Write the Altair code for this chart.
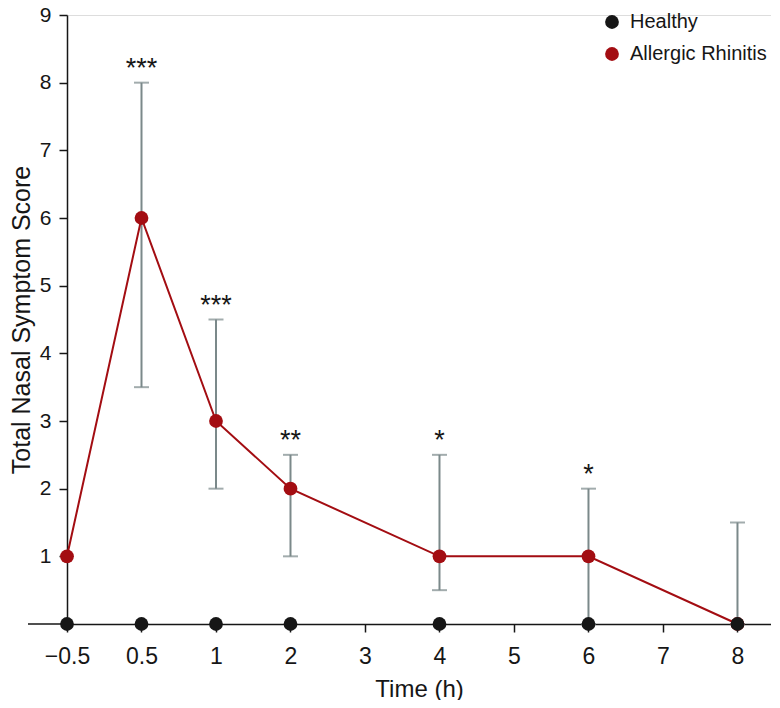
import altair as alt
import pandas as pd
import json

# ---- data ----
x_labels = ["\u22120.5", "0.5", "1", "2", "3", "4", "5", "6", "7", "8"]
time_points = ["\u22120.5", "0.5", "1", "2", "4", "6", "8"]
healthy_score = [0, 0, 0, 0, 0, 0, 0]
ar_score = [1, 6, 3, 2, 1, 1, 0]
ar_lower = [None, 3.5, 2, 1, 0.5, 0, 0]
ar_upper = [None, 8, 4.5, 2.5, 2.5, 2, 1.5]
stars = ["", "***", "***", "**", "*", "*", ""]
groups = ["Healthy", "Allergic Rhinitis"]
group_colors = ["#161616", "#a30d12"]

FONT = "Liberation Sans"
idx = [x_labels.index(t) for t in time_points]

ar = pd.DataFrame({"t": time_points, "xi": idx, "score": ar_score,
                   "lo": ar_lower, "hi": ar_upper, "star": stars,
                   "group": groups[1]})
hl = pd.DataFrame({"t": time_points, "xi": idx, "score": healthy_score,
                   "group": groups[0]})
err = ar.dropna(subset=["lo", "hi"])
st = ar[ar["star"] != ""]

xscale = alt.Scale(domain=[0, 9.45], nice=False, zero=False)
yscale = alt.Scale(domain=[0, 9], nice=False)
cscale = alt.Scale(domain=groups, range=group_colors)

label_expr = json.dumps(x_labels) + "[datum.value]"

x_enc = alt.X("xi:Q", scale=xscale,
              axis=alt.Axis(values=list(range(len(x_labels))), labelExpr=label_expr,
                            title="Time (h)", grid=False, zindex=0, labelFlush=False,
                            labelOverlap=False,
                            tickSize=8, tickWidth=1.5, tickColor="#161616",
                            domainColor="#161616", domainWidth=1.5,
                            labelFont=FONT, labelFontSize=23, labelColor="#161616",
                            labelPadding=13, titleFont=FONT, titleFontSize=24,
                            titleFontWeight="normal", titleColor="#161616",
                            titlePadding=9))
y_enc = alt.Y("score:Q", scale=yscale,
              axis=alt.Axis(values=list(range(1, 10)), format="d",
                            title="Total Nasal Symptom Score", labelFlush=False,
                            grid=False, zindex=0, tickSize=8, tickWidth=1.5,
                            tickColor="#161616", domainColor="#161616", domainWidth=1.5,
                            labelFont=FONT, labelFontSize=21, labelColor="#161616",
                            labelPadding=8, titleFont=FONT, titleFontSize=25,
                            titleFontWeight="normal", titleColor="#161616",
                            titleX=-33, titleBaseline="bottom"))

# x axis extension to the left of the y axis
ext = alt.Chart(pd.DataFrame({"v": [0]})).mark_rule(
    color="#161616", strokeWidth=1.5).encode(
    x=alt.value(-39), x2=alt.value(0), y=alt.Y("v:Q", scale=yscale))

bars = alt.Chart(err).mark_rule(color="#7b898a", strokeWidth=2).encode(
    x=alt.X("xi:Q", scale=xscale), y=alt.Y("lo:Q", scale=yscale), y2="hi:Q")
cap_hi = alt.Chart(err).mark_tick(color="#7b898a", thickness=2, size=15,
                                  orient="horizontal").encode(
    x=alt.X("xi:Q", scale=xscale), y=alt.Y("hi:Q", scale=yscale))
cap_lo = alt.Chart(err).mark_tick(color="#7b898a", thickness=2, size=15,
                                  orient="horizontal").encode(
    x=alt.X("xi:Q", scale=xscale), y=alt.Y("lo:Q", scale=yscale))

line = alt.Chart(ar).mark_line(color=group_colors[1], strokeWidth=2).encode(
    x=x_enc, y=y_enc)

legend = alt.Legend(title=None, orient="none", legendX=535, legendY=-3,
                    symbolType="circle", symbolSize=190, labelFont=FONT,
                    labelFontSize=20, labelColor="#161616", labelOffset=8,
                    rowPadding=12, padding=0, symbolStrokeWidth=0)

pts_ar = alt.Chart(ar).mark_circle(size=190, opacity=1).encode(
    x=alt.X("xi:Q", scale=xscale), y=alt.Y("score:Q", scale=yscale),
    color=alt.Color("group:N", scale=cscale, legend=legend))
pts_hl = alt.Chart(hl).mark_circle(size=190, opacity=1).encode(
    x=alt.X("xi:Q", scale=xscale), y=alt.Y("score:Q", scale=yscale),
    color=alt.Color("group:N", scale=cscale, legend=legend))

star_txt = alt.Chart(st).mark_text(font=FONT, fontSize=27, color="#161616",
                                   baseline="alphabetic", dy=-6).encode(
    x=alt.X("xi:Q", scale=xscale), y=alt.Y("hi:Q", scale=yscale), text="star:N")

chart = alt.layer(ext, bars, cap_hi, cap_lo, line, pts_ar, pts_hl, star_txt).properties(
    width=704, height=609,
    autosize=alt.AutoSizeParams(type="none"),
    padding={"left": 59, "top": 7, "right": 0, "bottom": 76},
).configure_view(stroke=None).configure(background="white")

chart.save("out.html", embed_options={"renderer": "svg", "actions": False})
